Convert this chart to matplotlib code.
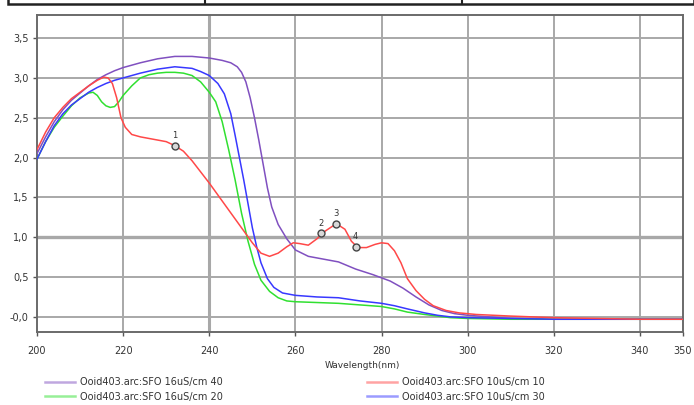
import matplotlib
matplotlib.use("Agg")
import matplotlib.pyplot as plt
from matplotlib.lines import Line2D
from matplotlib.patches import Rectangle

plt.rcParams['font.family'] = ['DejaVu Sans']

# ---------------- data ----------------
purple_x = [200, 202, 204, 206, 208, 210, 212, 214, 216, 218, 220, 224, 228, 232, 236, 240, 243, 245,
            246.5, 247.5, 248.5, 249.5, 250.5, 251.5, 252.5, 253.5, 254.5, 256, 258, 260, 263, 266, 270,
            274, 278, 282, 285, 288, 291, 294, 297, 300, 305, 310, 320, 330, 340, 350]
purple_y = [2.05, 2.26, 2.45, 2.6, 2.72, 2.81, 2.90, 2.98, 3.04, 3.09, 3.13, 3.19, 3.24, 3.27, 3.27, 3.25,
            3.22, 3.19, 3.14, 3.07, 2.95, 2.75, 2.50, 2.22, 1.92, 1.62, 1.38, 1.16, 0.98, 0.84, 0.76, 0.73,
            0.69, 0.60, 0.53, 0.45, 0.36, 0.25, 0.15, 0.08, 0.04, 0.02, 0.0, -0.02, -0.03, -0.03, -0.03, -0.03]

red_x = [200, 202, 204, 206, 208, 210, 212, 214, 215.5, 216.5, 217.5, 218.5, 219.5, 220.5, 222, 224, 226,
         228, 230, 232, 234, 236, 238, 240, 242, 244, 246, 248, 250, 252, 254, 256, 258, 259.5, 261, 263,
         265, 267, 269.5, 271.5, 273, 274.5, 276.5, 278.5, 280, 281.5, 283, 284.5, 286, 288, 290, 292, 295,
         298, 302, 306, 310, 315, 320, 330, 340, 350]
red_y = [2.1, 2.32, 2.5, 2.63, 2.74, 2.82, 2.9, 2.97, 3.01, 3.0, 2.93, 2.75, 2.5, 2.38, 2.29, 2.26, 2.24,
         2.22, 2.2, 2.15, 2.08, 1.96, 1.82, 1.68, 1.53, 1.38, 1.23, 1.08, 0.93, 0.80, 0.76, 0.80, 0.88, 0.93,
         0.92, 0.90, 0.98, 1.08, 1.17, 1.10, 0.95, 0.87, 0.87, 0.91, 0.93, 0.92, 0.83, 0.68, 0.48, 0.33,
         0.22, 0.14, 0.08, 0.05, 0.03, 0.02, 0.01, 0.0, -0.01, -0.02, -0.03, -0.03]

green_x = [200, 202, 204, 206, 208, 210, 212, 213, 214, 215, 216, 217, 218, 219, 220, 222, 224, 226, 228,
           230, 232, 234, 236, 238, 240, 241.5, 243, 244.5, 246, 247.5, 249, 250.5, 252, 254, 256, 258, 260,
           265, 270, 275, 280, 283, 286, 290, 293, 296, 300, 310, 320, 335, 350]
green_y = [1.98, 2.2, 2.38, 2.52, 2.65, 2.75, 2.81, 2.82, 2.78, 2.7, 2.65, 2.63, 2.64, 2.7, 2.78, 2.9, 3.0,
           3.04, 3.06, 3.07, 3.07, 3.06, 3.03, 2.95, 2.82, 2.70, 2.45, 2.1, 1.72, 1.30, 0.95, 0.66, 0.46,
           0.32, 0.24, 0.20, 0.19, 0.18, 0.17, 0.15, 0.13, 0.10, 0.06, 0.03, 0.01, -0.01, -0.02, -0.03,
           -0.03, -0.03, -0.03]

blue_x = [200, 202, 204, 206, 208, 210, 212, 214, 216, 218, 220, 224, 228, 232, 236, 238, 240, 242, 243.5,
          245, 246, 247, 248, 249, 250, 251, 252, 253.5, 255, 257, 260, 265, 270, 275, 280, 283, 286, 290,
          293, 296, 300, 310, 320, 335, 350]
blue_y = [1.98, 2.2, 2.4, 2.55, 2.66, 2.74, 2.82, 2.88, 2.93, 2.97, 3.0, 3.06, 3.11, 3.14, 3.12, 3.08, 3.03,
          2.93, 2.80, 2.55, 2.28, 2.0, 1.72, 1.42, 1.12, 0.88, 0.68, 0.48, 0.37, 0.30, 0.27, 0.25, 0.24,
          0.20, 0.17, 0.14, 0.10, 0.05, 0.02, 0.0, -0.01, -0.02, -0.03, -0.03, -0.03]

series_labels = ["Ooid403.arc:SFO 16uS/cm 40", "Ooid403.arc:SFO 16uS/cm 20",
                 "Ooid403.arc:SFO 10uS/cm 10", "Ooid403.arc:SFO 10uS/cm 30"]

marker_x = [232, 266, 269.5, 274]
marker_y = [2.15, 1.05, 1.17, 0.88]
marker_labels = ["1", "2", "3", "4"]

x_ticks = [200, 220, 240, 260, 280, 300, 320, 340, 350]
x_tick_labels = ["200", "220", "240", "260", "280", "300", "320", "340", "350"]
y_ticks = [0.0, 0.5, 1.0, 1.5, 2.0, 2.5, 3.0, 3.5]
y_tick_labels = ["-0,0", "0,5", "1,0", "1,5", "2,0", "2,5", "3,0", "3,5"]

# ---------------- figure ----------------
W, H = 694, 405
fig = plt.figure(figsize=(W / 100, H / 100), dpi=100)
ax = fig.add_axes([37 / W, 1 - 332 / H, (683 - 37) / W, (332 - 15) / H])

# top table strip remnant
fig.add_artist(Rectangle((8 / W, 1 - 4 / H), (694 - 8) / W, 6 / H, transform=fig.transFigure,
                         facecolor='white', edgecolor='#222222', linewidth=1.8, clip_on=False))
for xs in [205, 462]:
    fig.add_artist(Line2D([xs / W, xs / W], [1 - 4 / H, 1.0], transform=fig.transFigure,
                          color='#222222', linewidth=1.5))

ax.set_xlim(200, 350)
ax.set_ylim(-0.19, 3.79)

grid_col = '#a8a8a8'
for xv in x_ticks[1:-1]:
    ax.axvline(xv, color=grid_col, linewidth=1.4 if xv != 240 else 2.2, zorder=0)
for yv in y_ticks:
    ax.axhline(yv, color=grid_col, linewidth=1.4 if yv != 1.0 else 2.4, zorder=0)

c_purple = '#8050c0'
c_green = '#30e030'
c_red = '#ff4848'
c_blue = '#3838ff'

lw = 1.1
ax.plot(purple_x, purple_y, color=c_purple, lw=lw, label=series_labels[0], zorder=3)
ax.plot(green_x, green_y, color=c_green, lw=lw, label=series_labels[1], zorder=3)
ax.plot(red_x, red_y, color=c_red, lw=lw, label=series_labels[2], zorder=4)
ax.plot(blue_x, blue_y, color=c_blue, lw=lw, label=series_labels[3], zorder=3)

ax.plot(marker_x, marker_y, linestyle='none', marker='o', markersize=5,
        markerfacecolor='#d8d8d8', markeredgecolor='#444444', markeredgewidth=1.0, zorder=5)
for mx, my, ml in zip(marker_x, marker_y, marker_labels):
    ax.annotate(ml, (mx, my), xytext=(0, 4), textcoords='offset points', ha='center', va='bottom',
                fontsize=6, color='#333333', zorder=6)

ax.set_xticks(x_ticks)
ax.set_xticklabels(x_tick_labels)
ax.set_yticks(y_ticks)
ax.set_yticklabels(y_tick_labels)
ax.tick_params(axis='both', labelsize=7, labelcolor='#333333', color='#555555',
               length=3, width=1.0, direction='out', pad=3)
ax.tick_params(axis='x', pad=7)
for sp in ax.spines.values():
    sp.set_color('#6a6a6a')
    sp.set_linewidth(1.4)

fig.text(362 / W, 1 - 366 / H, "Wavelength(nm)", ha='center', va='center', fontsize=6.5, color='#333333')

handles, labels = ax.get_legend_handles_labels()
leg_kw = dict(loc='upper left', frameon=False, fontsize=7, handlelength=3.1, handletextpad=0.5,
              labelspacing=0.5, borderpad=0, borderaxespad=0)
leg1 = fig.legend(handles[:2], labels[:2], bbox_to_anchor=(45 / W, 1 - 377 / H), **leg_kw)
leg2 = fig.legend(handles[2:], labels[2:], bbox_to_anchor=(367 / W, 1 - 377 / H), **leg_kw)
for lg in (leg1, leg2):
    for t in lg.get_texts():
        t.set_color('#333333')
    for h in lg.legend_handles:
        h.set_linewidth(1.8)
        h.set_alpha(0.5)

fig.savefig("out.png", dpi=100)
